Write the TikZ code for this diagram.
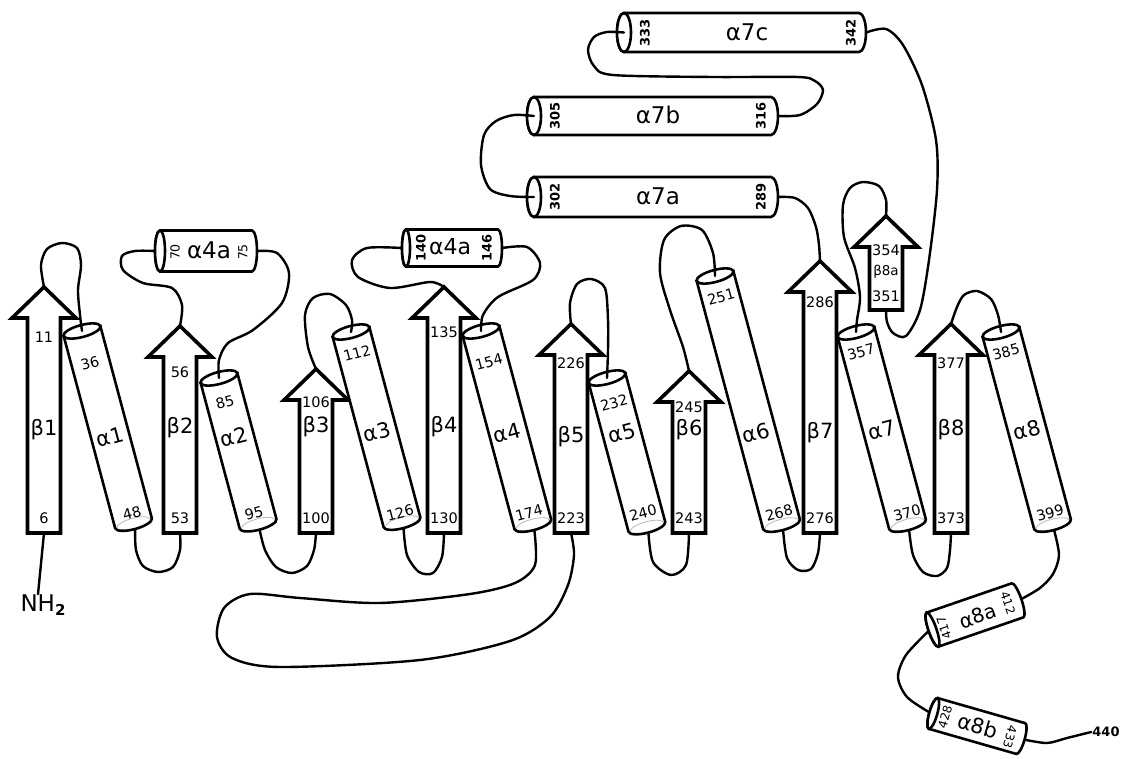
\documentclass[tikz,border=0pt]{standalone}
\usepackage{fontspec}
\setmainfont{DejaVu Sans}
\tikzset{
  strandbox/.style={draw, line width=3.6pt, fill=white, line join=miter, miter limit=4},
  cylbody/.style={draw, line width=2.6pt, fill=white},
  conn/.style={line width=2.4pt, line cap=round},
  num/.style={inner sep=0pt, font=\fontsize{14.5}{15}\selectfont},
  bnum/.style={inner sep=0pt, font=\fontsize{13}{14}\selectfont\bfseries},
  snum/.style={inner sep=0pt, font=\fontsize{12.5}{13}\selectfont},
  sname/.style={inner sep=0pt, font=\fontsize{21}{22}\selectfont},
  bigname/.style={inner sep=0pt, font=\fontsize{23}{24}\selectfont},
}
% strand: name, centre x, head base y, bottom y
\newcommand\strandshape[4]{%
  \draw[strandbox] ({#2-16.5},#4) -- ({#2-16.5},#3) -- ({#2-32},#3) -- (#2,{#3-31}) -- ({#2+32},#3) -- ({#2+16.5},#3) -- ({#2+16.5},#4) -- cycle;
  \coordinate (#1top) at (#2,{#3-31});
  \coordinate (#1bot) at (#2,#4);}
% helix: name, top x, top y, length
\newcommand\helixshape[4]{%
  \begin{scope}[shift={(#2,#3)},rotate=15]
    \draw[cylbody] (-19,0) -- (-19,#4) arc[start angle=180,end angle=360,x radius=19pt,y radius=6pt] -- (19,0) -- cycle;
    \draw[gray!55,line width=0.8pt] (-17,#4) arc[start angle=180,end angle=0,x radius=17pt,y radius=5pt];
    \draw[cylbody] (0,0) ellipse[x radius=19pt,y radius=6pt];
    \coordinate (#1top) at (0,0);
    \coordinate (#1bot) at (0,{#4+6});
  \end{scope}}
% horizontal cylinder: name, cx, cy, length, height, angle, cap rx
\newcommand\hcyl[7]{%
  \begin{scope}[shift={(#2,#3)},rotate=#6]
    \pgfmathsetmacro\cylL{#4/2}\pgfmathsetmacro\cylH{#5/2}
    \draw[cylbody] ({-\cylL+#7},-\cylH) -- ({\cylL-#7},-\cylH)
      arc[start angle=90,end angle=-90,x radius=#7pt,y radius={(#5/2)*1pt}]
      -- ({-\cylL+#7},\cylH)
      arc[start angle=270,end angle=90,x radius=#7pt,y radius={(#5/2)*1pt}] -- cycle;
    \draw[cylbody] ({-\cylL+#7},0) ellipse[x radius=#7pt,y radius={(#5/2)*1pt}];
    \coordinate (#1L) at ({-\cylL},0);
    \coordinate (#1C) at ({-\cylL+#7},0);
    \coordinate (#1R) at (\cylL,0);
  \end{scope}}
\begin{document}
\begin{tikzpicture}[x=1pt,y=-1pt]
\useasboundingbox (0,0) rectangle (1125,759);

% strands
\strandshape{b1}{44}{318}{533}
\strandshape{b2}{180}{357}{533}
\strandshape{b3}{316}{400}{533}
\strandshape{b4}{444}{318}{533}
\strandshape{b5}{571}{355}{533}
\strandshape{b6}{689}{402}{533}
\strandshape{b7}{820}{292}{533}
\strandshape{b8}{951}{355}{533}
\strandshape{b8a}{886}{247}{310}

% helices
\helixshape{a1}{82}{331}{199}
\helixshape{a2}{219}{378}{151}
\helixshape{a3}{351}{332}{197}
\helixshape{a4}{481}{331}{200}
\helixshape{a5}{607}{378}{154}
\helixshape{a6}{715}{276}{257}
\helixshape{a7}{856}{332}{199}
\helixshape{a8}{1001}{332}{199}

% short cylinders
\hcyl{xa}{206}{251}{102}{41}{0}{5}
\hcyl{xb}{452}{248}{100}{37}{0}{4}
\hcyl{hc}{741.5}{32.5}{249}{39}{0}{7}
\hcyl{hb}{652.5}{116}{251}{38}{0}{7}
\hcyl{ha}{652.5}{197}{251}{40}{0}{7}
\hcyl{ea}{975}{615}{98}{36}{19}{4}
\hcyl{eb}{977}{726}{99}{32}{-16}{4}

% end nodes
\node[inner sep=0pt, font=\fontsize{23}{24}\selectfont] (nh2) at (43,605) {NH\raisebox{-0.35ex}{\fontsize{15}{15}\selectfont\bfseries 2}};
\node[inner sep=1pt, font=\fontsize{13}{13}\selectfont\bfseries] (n440) at (1106,732) {440};

% connectors
\draw[conn] (b1bot) -- ([xshift=-5pt]nh2.north);
\draw[conn] plot[smooth] coordinates {(b1top) (41,265) (47,249) (62,243) (77,248) (81,265) (78,290) (80,315) (a1top)};
\draw[conn] plot[smooth] coordinates {(a1bot) (136,550) (143,566) (158,572) (173,567) (180,550) (b2bot)};
\draw[conn] plot[smooth] coordinates {(b2top) (182,305) (172,288) (143,283) (123,270) (122,256) (135,251) (xaL)};
\draw[conn] plot[smooth] coordinates {(xaR) (277,253) (289,273) (282,303) (253,330) (228,343) (219,360) (a2top)};
\draw[conn] plot[smooth] coordinates {(a2bot) (265,550) (276,567) (292,573) (307,566) (314,550) (b3bot)};
\draw[conn] plot[smooth] coordinates {(b3top) (308,347) (305,315) (313,298) (330,294) (346,305) (352,320) (a3top)};
\draw[conn] plot[smooth] coordinates {(a3bot) (407,555) (419,572) (433,573) (442,557) (b4bot)};
\draw[conn] plot[smooth] coordinates {(b4top) (430,282) (390,288) (358,277) (352,260) (367,248) (xbL)};
\draw[conn] plot[smooth] coordinates {(xbR) (527,247) (540,263) (533,280) (498,297) (483,315) (a4top)};
\draw[conn] plot[smooth] coordinates {(a4bot) (535,565) (515,583) (470,594) (380,603) (300,598) (250,594) (224,608) (217,637) (232,658) (280,667) (420,660) (510,641) (550,617) (568,585) (574,555) (b5bot)};
\draw[conn] plot[smooth] coordinates {(b5top) (570,303) (577,284) (591,279) (605,288) (608,320) (608,350) (a5top)};
\draw[conn] plot[smooth] coordinates {(a5bot) (653,562) (671,575) (686,565) (b6bot)};
\draw[conn] plot[smooth] coordinates {(b6top) (683,347) (670,310) (660,273) (664,240) (681,226) (702,230) (713,253) (a6top)};
\draw[conn] plot[smooth] coordinates {(a6bot) (787,558) (798,570) (811,569) (818,553) (b7bot)};
\draw[conn] plot[smooth] coordinates {(b7top) (819,245) (816,227) (808,208) (795,198) (haR)};
\draw[conn] plot[smooth] coordinates {(haC) (510,196) (490,189) (481,165) (484,135) (496,121) (514,115) (hbC)};
\draw[conn] plot[smooth] coordinates {(hbR) (800,115) (817,104) (823,90) (815,81) (798,77) (713,77) (613,75) (594,66) (588,50) (594,37) (607,32) (hcC)};
\draw[conn] plot[smooth] coordinates {(hcR) (886,29) (903,45) (922,85) (936,140) (937,190) (929,260) (920,310) (906,336) (893,333) (887,322) (b8abot)};
\draw[conn] plot[smooth] coordinates {(b8atop) (886,200) (879,186) (863,182) (850,188) (843,205) (844,237) (855,268) (860,297) (857,320) (a7top)};
\draw[conn] plot[smooth] coordinates {(a7bot) (913,555) (923,572) (937,576) (947,568) (950,550) (b8bot)};
\draw[conn] plot[smooth] coordinates {(b8top) (957,307) (964,295) (977,291) (991,299) (998,315) (a8top)};
\draw[conn] plot[smooth] coordinates {(a8bot) (1059,555) (1053,574) (1040,588) (eaR)};
\draw[conn] plot[smooth] coordinates {(eaL) (906,655) (898,677) (907,697) (ebL)};
\draw[conn] plot[smooth] coordinates {(ebR) (1047,743) (1067,738) (n440.west)};

% strand labels
\node[num] (s1t) at (44,337) {11};  \node[sname] (s1n) at (44,430) {β1}; \node[num] (s1b) at (44,518) {6};
\node[num] (s2t) at (180,372) {56}; \node[sname] (s2n) at (180,428) {β2}; \node[num] (s2b) at (180,518) {53};
\node[num] (s3t) at (316,402) {106}; \node[sname] (s3n) at (316,427) {β3}; \node[num] (s3b) at (316,518) {100};
\node[num] (s4t) at (444,332) {135}; \node[sname] (s4n) at (444,427) {β4}; \node[num] (s4b) at (444,518) {130};
\node[num] (s5t) at (571,363) {226}; \node[sname] (s5n) at (571,437) {β5}; \node[num] (s5b) at (571,518) {223};
\node[num] (s6t) at (689,407) {245}; \node[sname] (s6n) at (689,430) {β6}; \node[num] (s6b) at (689,518) {243};
\node[num] (s7t) at (820,302) {286}; \node[sname] (s7n) at (820,433) {β7}; \node[num] (s7b) at (820,518) {276};
\node[num] (s8t) at (951,363) {377}; \node[sname] (s8n) at (951,430) {β8}; \node[num] (s8b) at (951,518) {373};
\node[num] (s9t) at (886,250) {354}; \node[inner sep=0pt,font=\fontsize{13.5}{14}\selectfont] (s9n) at (886,272) {β8a}; \node[num] (s9b) at (886,296) {351};

% helix labels
\node[num,rotate=15] (h1t) at (90,363) {36};   \node[sname,rotate=15] (h1n) at (110,437) {α1}; \node[num,rotate=15] (h1b) at (132,513) {48};
\node[num,rotate=15] (h2t) at (225,402) {85};  \node[sname,rotate=15] (h2n) at (234,437) {α2}; \node[num,rotate=15] (h2b) at (254,513) {95};
\node[num,rotate=15] (h3t) at (357,353) {112}; \node[sname,rotate=15] (h3n) at (377,432) {α3}; \node[num,rotate=15] (h3b) at (400,513) {126};
\node[num,rotate=15] (h4t) at (489,362) {154}; \node[sname,rotate=15] (h4n) at (507,433) {α4}; \node[num,rotate=15] (h4b) at (529,513) {174};
\node[num,rotate=15] (h5t) at (614,403) {232}; \node[sname,rotate=15] (h5n) at (622,433) {α5}; \node[num,rotate=15] (h5b) at (643,513) {240};
\node[num,rotate=15] (h6t) at (721,297) {251}; \node[sname,rotate=15] (h6n) at (756,433) {α6}; \node[num,rotate=15] (h6b) at (779,513) {268};
\node[num,rotate=15] (h7t) at (861,352) {357}; \node[sname,rotate=15] (h7n) at (882,430) {α7}; \node[num,rotate=15] (h7b) at (907,513) {370};
\node[num,rotate=15] (h8t) at (1006,352) {385}; \node[sname,rotate=15] (h8n) at (1027,430) {α8}; \node[num,rotate=15] (h8b) at (1050,513) {399};

% cylinder labels
\node[snum,rotate=90] (c70) at (175,252) {70}; \node[inner sep=0pt,font=\fontsize{23}{24}\selectfont] (c4a) at (209,250) {α4a}; \node[snum,rotate=90] (c75) at (243,252) {75};
\node[bnum,rotate=90] (c140) at (421,248) {140}; \node[inner sep=0pt,font=\fontsize{22}{22}\selectfont] (c4b) at (450,247) {α4a}; \node[bnum,rotate=90] (c146) at (487,248) {146};
\node[bnum,rotate=90] (c333) at (645,33) {333}; \node[bigname] (c7c) at (747,32) {α7c}; \node[bnum,rotate=90] (c342) at (851,33) {342};
\node[bnum,rotate=90] (c305) at (555,116) {305}; \node[bigname] (c7b) at (658,115) {α7b}; \node[bnum,rotate=90] (c316) at (761,116) {316};
\node[bnum,rotate=90] (c302) at (555,197) {302}; \node[bigname] (c7a) at (658,196) {α7a}; \node[bnum,rotate=90] (c289) at (761,197) {289};
\node[inner sep=0pt,font=\fontsize{12}{12}\selectfont,rotate=109] (c417) at (944,628) {417};
\node[inner sep=0pt,font=\fontsize{20}{20}\selectfont,rotate=19] (c8a) at (978,616) {α8a};
\node[inner sep=0pt,font=\fontsize{12}{12}\selectfont,rotate=-71] (c412) at (1008,603) {412};
\node[inner sep=0pt,font=\fontsize{12}{12}\selectfont,rotate=74] (c428) at (945,717) {428};
\node[inner sep=0pt,font=\fontsize{21}{21}\selectfont,rotate=-16] (c8b) at (978,726) {α8b};
\node[inner sep=0pt,font=\fontsize{12}{12}\selectfont,rotate=-106] (c433) at (1010,737) {433};
\end{tikzpicture}
\end{document}
